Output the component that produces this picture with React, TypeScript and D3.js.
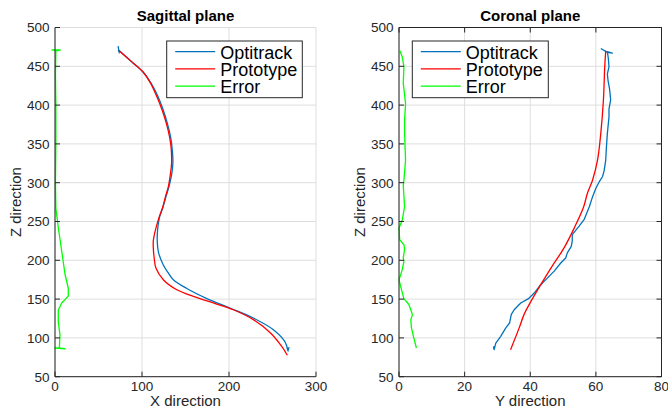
import React from "react";
import * as d3 from "d3";

// ---------- DATA ----------
const seriesNames = ["Optitrack", "Prototype", "Error"];
const seriesColors = ["#0072BD", "#FF0000", "#00FF00"];

const sagittalXTicks = [0, 100, 200, 300];
const coronalXTicks = [0, 20, 40, 60, 80];
const zTicks = [50, 100, 150, 200, 250, 300, 350, 400, 450, 500];

// Sagittal plane: [X, Z]
const sagittalOptitrack: [number, number][] = [
  [72.5, 476], [74, 467], [73, 471], [75, 469], [88, 456], [101, 443], [110, 429], [118, 412],
  [124, 395], [129, 377], [133, 358], [135, 340], [135.5, 325], [134, 310], [131, 295],
  [127, 280], [124, 268], [120, 255], [118, 240], [117.5, 225], [119, 210], [124.5, 194],
  [130, 184], [136, 175], [151, 164], [174, 151], [201, 138.5], [228, 125.6], [251, 110.6],
  [264, 95.6], [268, 83], [266.5, 88], [268, 84], [269, 88],
];
const sagittalPrototype: [number, number][] = [
  [73.6, 470], [87, 457], [101, 443], [110, 428], [117, 411], [123, 394], [128, 376.5],
  [131.5, 360], [133.4, 346], [134, 325], [132.5, 310], [130.3, 295], [127, 282], [124, 269],
  [119, 253], [115, 237], [113, 225], [113, 216], [114, 203], [116, 190], [124.5, 175],
  [140, 162], [159, 153.6], [182, 145], [205, 136.3], [228, 123.5], [248, 106], [260.6, 89],
  [267, 77.6],
];
const sagittalError: [number, number][] = [
  [-4, 471], [6, 471], [1, 470], [0.5, 440], [1, 400], [1, 350], [0.5, 300], [1, 267],
  [3.8, 242], [7.7, 212], [11.5, 182], [15.3, 164], [15.3, 154], [12, 150], [7.7, 145],
  [3.8, 136], [3.8, 121], [5.7, 104], [5, 87], [0, 87], [11.5, 86], [4, 87],
];

// Coronal plane: [Y, Z]
const coronalOptitrack: [number, number][] = [
  [61.5, 473], [63.5, 468], [65, 467], [63.5, 469], [63.8, 460], [64, 449.5], [63.5, 440],
  [63.7, 432], [64.2, 420], [64.5, 406.6], [64, 395], [64, 385], [63.5, 363.6], [63.2, 345],
  [63, 329], [62.5, 315], [62, 307.7], [61, 301], [60, 292.8], [59, 282], [58, 269],
  [56.4, 252.3], [54.9, 244], [52.8, 233], [52.8, 225], [52.5, 218], [51.3, 209.6],
  [50.8, 203], [49.3, 196.5], [47.3, 186], [45.2, 177], [43.2, 168.6], [41.2, 157.8],
  [39.6, 151], [37.1, 145], [35.1, 136.3], [34.2, 130], [33.7, 119.2], [32.5, 112.6],
  [31, 102], [29.5, 93.3], [29, 85], [28.8, 88], [29.3, 89],
];
const coronalPrototype: [number, number][] = [
  [63, 470], [62.7, 449.5], [62.3, 406.6], [61.5, 363.6], [60.5, 329], [59, 303.5],
  [57.4, 286], [56.2, 268], [53.4, 241.6], [50.3, 216], [46.3, 190], [43.2, 168.6],
  [40.2, 147], [38.1, 130], [36.6, 112.6], [34, 84.8],
];
const coronalError: [number, number][] = [
  [0.3, 470], [1, 462], [1.5, 449.5], [1.3, 428], [2, 402], [1.7, 380], [1.7, 363.6],
  [2, 329], [1.5, 303.5], [1.3, 296], [1.7, 269], [1, 252], [0, 241.6], [0.2, 226.6],
  [1.5, 220], [1.7, 214], [1.3, 203], [1.5, 199], [1, 188], [0, 175], [0.5, 166.5],
  [1.3, 153.6], [1.5, 150.6], [3, 143], [4.1, 130], [3.6, 123.5], [3.8, 112.6], [4.4, 102],
  [5.3, 87],
];

// ---------- LAYOUT ----------
const W = 668;
const H = 416;
const TOP = 27.5;
const BOTTOM = 376.7;
const FONT = "'Liberation Sans', Arial, Helvetica, sans-serif";
const AXIS = "#262626";
const GRID = "#dedede";

type PanelProps = {
  title: string;
  xLabel: string;
  x0: number;
  x1: number;
  xDomain: [number, number];
  xTicks: number[];
  series: [number, number][][];
  smooth: boolean[];
  box: boolean;
  legend: { x: number; y: number; w: number; h: number };
  yLabelX: number;
};

function Panel(p: PanelProps) {
  const x = d3.scaleLinear().domain(p.xDomain).range([p.x0, p.x1]);
  const y = d3.scaleLinear().domain([50, 500]).range([BOTTOM, TOP]);
  const mk = (smooth: boolean) =>
    d3
      .line<[number, number]>()
      .x((d) => x(d[0]))
      .y((d) => y(d[1]))
      .curve(smooth ? d3.curveCatmullRom.alpha(0.5) : d3.curveLinear);
  const tl = 5;
  const cx = (p.x0 + p.x1) / 2;
  return (
    <g>
      {/* grid */}
      {p.xTicks.map((t) => (
        <line key={"gx" + t} x1={x(t)} x2={x(t)} y1={TOP} y2={BOTTOM} stroke={GRID} strokeWidth={1} />
      ))}
      {zTicks.map((t) => (
        <line key={"gy" + t} x1={p.x0} x2={p.x1} y1={y(t)} y2={y(t)} stroke={GRID} strokeWidth={1} />
      ))}
      {/* series */}
      {p.series.map((s, i) => (
        <path
          key={"s" + i}
          d={mk(p.smooth[i])(s) || ""}
          fill="none"
          stroke={seriesColors[i]}
          strokeWidth={1.3}
          strokeLinejoin="round"
        />
      ))}
      {/* axes */}
      <line x1={p.x0} x2={p.x0} y1={TOP} y2={BOTTOM} stroke={AXIS} strokeWidth={1} />
      <line x1={p.x0} x2={p.x1} y1={BOTTOM} y2={BOTTOM} stroke={AXIS} strokeWidth={1} />
      {p.box && (
        <>
          <line x1={p.x1} x2={p.x1} y1={TOP} y2={BOTTOM} stroke={AXIS} strokeWidth={1} />
          <line x1={p.x0} x2={p.x1} y1={TOP} y2={TOP} stroke={AXIS} strokeWidth={1} />
        </>
      )}
      {zTicks.map((t) => (
        <g key={"ty" + t}>
          <line x1={p.x0} x2={p.x0 + tl} y1={y(t)} y2={y(t)} stroke={AXIS} strokeWidth={1} />
          {p.box && <line x1={p.x1} x2={p.x1 - tl} y1={y(t)} y2={y(t)} stroke={AXIS} strokeWidth={1} />}
          <text x={p.x0 - 5.5} y={y(t) + 4.8} textAnchor="end" fontSize={13.5} fill={AXIS} fontFamily={FONT}>
            {t}
          </text>
        </g>
      ))}
      {p.xTicks.map((t) => (
        <g key={"tx" + t}>
          <line x1={x(t)} x2={x(t)} y1={BOTTOM} y2={BOTTOM - tl} stroke={AXIS} strokeWidth={1} />
          {p.box && <line x1={x(t)} x2={x(t)} y1={TOP} y2={TOP + tl} stroke={AXIS} strokeWidth={1} />}
          <text x={x(t)} y={391} textAnchor="middle" fontSize={13.5} fill={AXIS} fontFamily={FONT}>
            {t}
          </text>
        </g>
      ))}
      {/* labels */}
      <text x={cx} y={406} textAnchor="middle" fontSize={15} fill={AXIS} fontFamily={FONT}>
        {p.xLabel}
      </text>
      <text
        transform={`translate(${p.yLabelX},${(TOP + BOTTOM) / 2}) rotate(-90)`}
        textAnchor="middle"
        fontSize={15}
        fill={AXIS}
        fontFamily={FONT}
      >
        Z direction
      </text>
      <text x={cx} y={21} textAnchor="middle" fontSize={15} fontWeight="bold" fill="#000" fontFamily={FONT}>
        {p.title}
      </text>
      {/* legend */}
      <rect x={p.legend.x} y={p.legend.y} width={p.legend.w} height={p.legend.h} fill="#fff" stroke={AXIS} strokeWidth={1} />
      {seriesNames.map((n, i) => {
        const ry = p.legend.y + 10.7 + i * 17.2;
        return (
          <g key={"lg" + n}>
            <line x1={p.legend.x + 8.5} x2={p.legend.x + 48.5} y1={ry} y2={ry} stroke={seriesColors[i]} strokeWidth={1.3} />
            <text x={p.legend.x + 53.5} y={ry + 7} fontSize={18} fill="#000" fontFamily={FONT}>
              {n}
            </text>
          </g>
        );
      })}
    </g>
  );
}

export default function App() {
  return (
    <svg width={W} height={H} style={{ position: "absolute", left: 0, top: 0, background: "#fff" }}>
      <rect width={W} height={H} fill="#fff" />
      <Panel
        title="Sagittal plane"
        xLabel="X direction"
        x0={55}
        x1={316}
        xDomain={[0, 300]}
        xTicks={sagittalXTicks}
        series={[sagittalOptitrack, sagittalPrototype, sagittalError]}
        smooth={[true, true, false]}
        box={false}
        legend={{ x: 166.7, y: 41, w: 135.6, h: 56.7 }}
        yLabelX={20.5}
      />
      <Panel
        title="Coronal plane"
        xLabel="Y direction"
        x0={399}
        x1={661.5}
        xDomain={[0, 80]}
        xTicks={coronalXTicks}
        series={[coronalOptitrack, coronalPrototype, coronalError]}
        smooth={[false, true, false]}
        box={true}
        legend={{ x: 412.3, y: 41, w: 136, h: 56.7 }}
        yLabelX={364.5}
      />
    </svg>
  );
}
